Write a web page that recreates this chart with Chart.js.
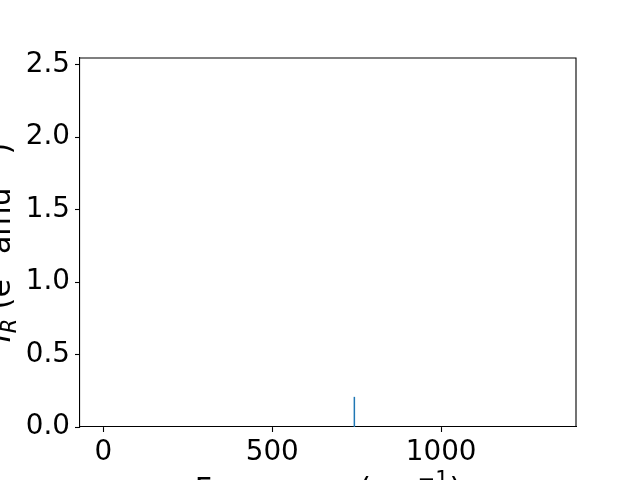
<!DOCTYPE html>
<html>
<head>
<meta charset="utf-8">
<script src="https://cdn.jsdelivr.net/npm/chart.js@4/dist/chart.umd.min.js"></script>
<style>
  html, body { margin: 0; padding: 0; background: #ffffff; }
  #wrap { width: 640px; height: 480px; position: relative; }
</style>
</head>
<body>
<div id="wrap"><canvas id="c" width="640" height="480"></canvas></div>
<script>
// ---- data ----
const frequencies = [743];          // cm^-1
const intensities = [0.208];        // e^2 amu^-1
const xTicks = [0, 500, 1000];
const yTicks = [0.0, 0.5, 1.0, 1.5, 2.0, 2.5];

// stick spectrum points built from the arrays
const stickPoints = [];
frequencies.forEach((f, i) => {
  stickPoints.push({x: f, y: 0});
  stickPoints.push({x: f, y: intensities[i]});
  stickPoints.push({x: f, y: null});
});

const FONT = 'DejaVu Sans';
const FS = 27.8;     // tick labels
const LFS = 30;      // axis titles

function drawRich(ctx, parts, cx, baseY) {
  const fontFor = p => {
    const size = (p.sup || p.sub) ? LFS * 0.7 : LFS;
    return (p.italic ? 'italic ' : '') + size + 'px "' + FONT + '"';
  };
  const widths = parts.map(p => { ctx.font = fontFor(p); return ctx.measureText(p.t).width + (p.gap || 0); });
  const total = widths.reduce((a, b) => a + b, 0);
  let x = cx - total / 2;
  parts.forEach((p, i) => {
    ctx.font = fontFor(p);
    let dy = 0;
    if (p.sup) dy = -LFS * 0.42;
    if (p.sub) dy = LFS * 0.2;
    ctx.fillText(p.t, x + (p.pre || 0), baseY + dy);
    x += widths[i];
  });
}

const framePlugin = {
  id: 'frame',
  afterDraw(chart) {
    const {ctx, chartArea: a} = chart;
    ctx.save();
    ctx.strokeStyle = '#000';
    ctx.lineWidth = 1.1;
    ctx.beginPath();
    ctx.moveTo(a.left, a.top);
    ctx.lineTo(a.right, a.top);
    ctx.lineTo(a.right, a.bottom);
    ctx.stroke();

    ctx.fillStyle = '#000';
    ctx.textBaseline = 'alphabetic';
    ctx.textAlign = 'left';
    // x axis title
    drawRich(ctx, [
      {t: 'Frequency (cm'}, {t: '−1', sup: true, pre: 1, gap: 2}, {t: ')'}
    ], (a.left + a.right) / 2, 499);
    // y axis title (rotated)
    ctx.translate(10, (a.top + a.bottom) / 2);
    ctx.rotate(-Math.PI / 2);
    drawRich(ctx, [
      {t: 'I', italic: true}, {t: 'R', italic: true, sub: true},
      {t: ' (e'}, {t: '2', sup: true, pre: 1, gap: 2}, {t: ' amu'}, {t: '−1', sup: true, pre: 1, gap: 2}, {t: ')'}
    ], 0, 0);
    ctx.restore();
  }
};

new Chart(document.getElementById('c'), {
  type: 'scatter',
  data: {
    datasets: [{
      data: stickPoints,
      showLine: true,
      spanGaps: false,
      borderColor: '#1f77b4',
      backgroundColor: '#1f77b4',
      borderWidth: 1.5,
      pointRadius: 0,
      pointHoverRadius: 0
    }]
  },
  options: {
    responsive: false,
    animation: false,
    devicePixelRatio: 1,
    layout: { padding: { left: 0, top: 58, right: 64, bottom: 0 } },
    plugins: { legend: { display: false }, tooltip: { enabled: false } },
    scales: {
      x: {
        type: 'linear',
        min: -69,
        max: 1399,
        afterFit(s) { s.height = 53; },
        afterBuildTicks(s) { s.ticks = xTicks.map(v => ({value: v})); },
        grid: { display: true, drawOnChartArea: false, drawTicks: true, tickLength: 5, tickWidth: 1.1, tickColor: '#000' },
        border: { display: true, color: '#000', width: 1.1 },
        ticks: {
          color: '#000',
          padding: 4,
          maxRotation: 0,
          font: { family: FONT, size: FS },
          callback: v => String(v)
        }
      },
      y: {
        type: 'linear',
        min: 0,
        max: 2.546,
        afterFit(s) { s.width = 80; },
        afterBuildTicks(s) { s.ticks = yTicks.map(v => ({value: v})); },
        grid: { display: true, drawOnChartArea: false, drawTicks: true, tickLength: 5, tickWidth: 1.1, tickColor: '#000' },
        border: { display: true, color: '#000', width: 1.1 },
        ticks: {
          color: '#000',
          padding: 5,
          font: { family: FONT, size: FS },
          callback: v => Number(v).toFixed(1)
        }
      }
    }
  },
  plugins: [framePlugin]
});
</script>
</body>
</html>
